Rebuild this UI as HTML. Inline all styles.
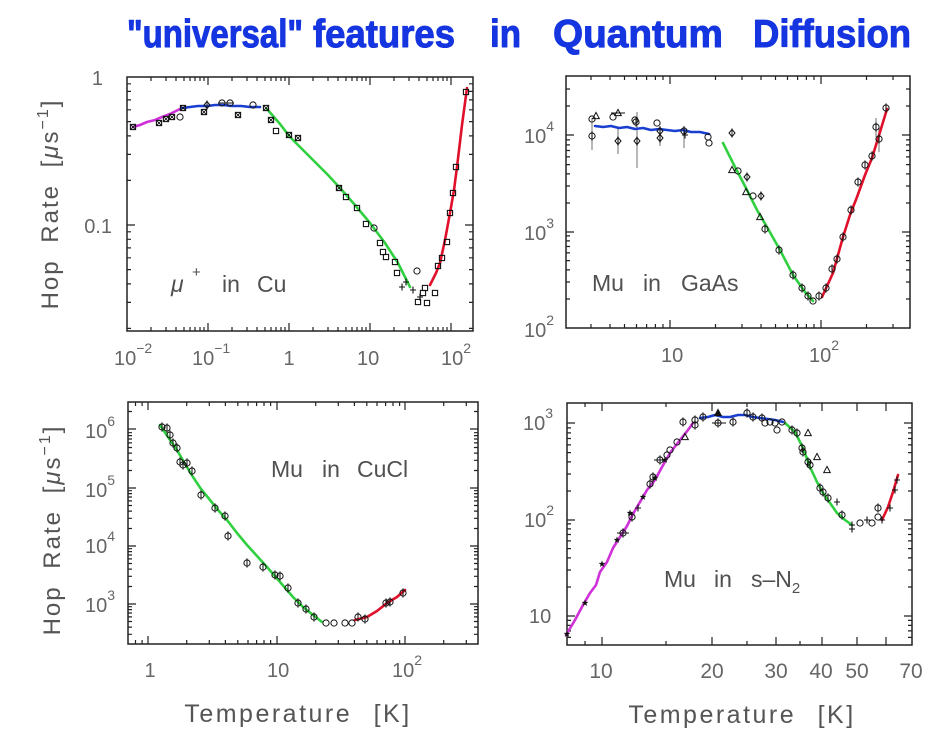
<!DOCTYPE html>
<html>
<head>
<meta charset="utf-8">
<style>
html,body{margin:0;padding:0;background:#fff;}
svg{display:block;}
</style>
</head>
<body>
<svg width="932" height="739" viewBox="0 0 932 739" xmlns="http://www.w3.org/2000/svg" font-family="'Liberation Sans', sans-serif">
<defs>
  <g id="s"><rect x="-2.6" y="-2.6" width="5.2" height="5.2" fill="none" stroke="#111" stroke-width="1.1"/></g>
  <g id="sx"><rect x="-2.6" y="-2.6" width="5.2" height="5.2" fill="none" stroke="#111" stroke-width="1.1"/><path d="M-2.6 -2.6L2.6 2.6M2.6 -2.6L-2.6 2.6" stroke="#111" stroke-width="0.9"/></g>
  <g id="c"><circle r="3.1" fill="none" stroke="#111" stroke-width="1"/></g>
  <g id="cb"><circle r="3.1" fill="none" stroke="#111" stroke-width="1"/><path d="M0 -4.6v9.2" stroke="#111" stroke-width="1"/></g>
  <g id="t"><path d="M0 -3.6L3.3 2.6H-3.3Z" fill="none" stroke="#111" stroke-width="1"/></g>
  <g id="tf"><path d="M0 -3.6L3.3 2.6H-3.3Z" fill="#111" stroke="#111" stroke-width="1"/></g>
  <g id="d"><path d="M0 -3.6L3 0L0 3.6L-3 0Z" fill="none" stroke="#111" stroke-width="1"/><path d="M0 -4.6v9.2" stroke="#111" stroke-width="0.9"/></g>
  <g id="pl"><path d="M-3 0h6M0 -3.5v7" stroke="#111" stroke-width="1.1"/></g>
  <g id="st"><path d="M0 -3.6L0.85 -1.15L3.4 -1.1L1.35 0.45L2.1 2.9L0 1.45L-2.1 2.9L-1.35 0.45L-3.4 -1.1L-0.85 -1.15Z" fill="#111"/></g>

  <!-- Panel 1 ticks -->
  <path id="p1bx" d="M208 331v-8M289 331v-8M370 331v-8M451 331v-8M151 331v-4M166 331v-4M176 331v-4M184 331v-4M190 331v-4M195 331v-4M200 331v-4M204 331v-4M232 331v-4M247 331v-4M257 331v-4M265 331v-4M271 331v-4M276 331v-4M281 331v-4M285 331v-4M313 331v-4M328 331v-4M338 331v-4M346 331v-4M352 331v-4M357 331v-4M362 331v-4M366 331v-4M394 331v-4M409 331v-4M419 331v-4M427 331v-4M433 331v-4M438 331v-4M443 331v-4M447 331v-4" stroke="#222" stroke-width="1.2" fill="none"/>
  <path id="p1ly" d="M127 225h8M127 83.8h4M127 91.4h4M127 99.9h4M127 109.8h4M127 121.6h4M127 135.9h4M127 154.4h4M127 180.4h4M127 231.8h4M127 239.3h4M127 247.9h4M127 257.8h4M127 269.6h4M127 283.9h4M127 302.4h4M127 328.4h4" stroke="#222" stroke-width="1.2" fill="none"/>

  <!-- Panel 2 ticks -->
  <path id="p2bx" d="M670 328v-8M821 328v-8M591 328v-4M610 328v-4M624.5 328v-4M636.5 328v-4M646.6 328v-4M655.4 328v-4M663 328v-4M715.5 328v-4M742 328v-4M761 328v-4M775.5 328v-4M787.5 328v-4M797.6 328v-4M806.4 328v-4M814 328v-4M866.5 328v-4M893 328v-4" stroke="#222" stroke-width="1.2" fill="none"/>
  <path id="p2ly" d="M566 135h8M566 232h8M566 299h4M566 282h4M566 269.9h4M566 260.6h4M566 252.9h4M566 246.5h4M566 240.9h4M566 235.9h4M566 203h4M566 186h4M566 173.9h4M566 164.6h4M566 156.9h4M566 150.5h4M566 144.9h4M566 139.9h4M566 106h4M566 89h4" stroke="#222" stroke-width="1.2" fill="none"/>

  <!-- Panel 3 ticks -->
  <path id="p3bx" d="M148 644v-8M277 644v-8M405 644v-8M135.5 644v-4M142.1 644v-4M186.7 644v-4M209.3 644v-4M225.4 644v-4M237.8 644v-4M248 644v-4M256.6 644v-4M264 644v-4M270.6 644v-4M315.7 644v-4M338.3 644v-4M354.4 644v-4M366.8 644v-4M377 644v-4M385.6 644v-4M393 644v-4M399.6 644v-4M443.7 644v-4M466.3 644v-4" stroke="#222" stroke-width="1.2" fill="none"/>
  <path id="p3ly" d="M128 429h8M128 488h8M128 546h8M128 604h8M128 634.3h4M128 627.1h4M128 621.5h4M128 616.9h4M128 613h4M128 609.6h4M128 606.7h4M128 586.5h4M128 576.3h4M128 569.1h4M128 563.5h4M128 558.9h4M128 555h4M128 551.6h4M128 548.7h4M128 528.5h4M128 518.3h4M128 511.1h4M128 505.5h4M128 500.9h4M128 497h4M128 493.6h4M128 490.7h4M128 470.5h4M128 460.3h4M128 453.1h4M128 447.5h4M128 442.9h4M128 439h4M128 435.6h4M128 432.7h4M128 411.5h4" stroke="#222" stroke-width="1.2" fill="none"/>

  <!-- Panel 4 ticks -->
  <path id="p4bx" d="M602 645v-8M712 645v-8M776 645v-8M822 645v-8M857 645v-8M886 645v-8M585 645v-4M666 645v-4M747 645v-4M800 645v-4" stroke="#222" stroke-width="1.2" fill="none"/>
  <path id="p4ly" d="M567 423h8M567 520h8M567 616h8M567 625.4h4M567 620.4h4M567 630.9h4M567 637.4h4M567 587h4M567 570h4M567 557.9h4M567 548.6h4M567 540.9h4M567 534.5h4M567 528.9h4M567 523.9h4M567 491h4M567 474h4M567 461.9h4M567 452.6h4M567 444.9h4M567 438.5h4M567 432.9h4M567 427.9h4" stroke="#222" stroke-width="1.2" fill="none"/>
</defs>

<rect width="932" height="739" fill="#fff"/>

<!-- Title -->
<g font-family="'Liberation Sans', sans-serif" font-weight="bold" font-size="39" fill="#1535e0" stroke="#1535e0" stroke-width="1" stroke-linejoin="round">
  <text x="127" y="47" textLength="176" lengthAdjust="spacingAndGlyphs">"universal"</text>
  <text x="313" y="47" textLength="142" lengthAdjust="spacingAndGlyphs">features</text>
  <text x="490" y="47" textLength="31" lengthAdjust="spacingAndGlyphs">in</text>
  <text x="553" y="47" textLength="170" lengthAdjust="spacingAndGlyphs">Quantum</text>
  <text x="753" y="47" textLength="158" lengthAdjust="spacingAndGlyphs">Diffusion</text>
</g>

<!-- Axis titles -->
<g fill="#555" font-size="24" letter-spacing="2" word-spacing="8">
  <text transform="translate(58,204) rotate(-90)" text-anchor="middle">Hop Rate [<tspan font-style="italic">μ</tspan>s<tspan dy="-10" font-size="16">−1</tspan><tspan dy="10">]</tspan></text>
  <text transform="translate(60,530) rotate(-90)" text-anchor="middle">Hop Rate [<tspan font-style="italic">μ</tspan>s<tspan dy="-10" font-size="16">−1</tspan><tspan dy="10">]</tspan></text>
</g>
<g fill="#555" font-size="25" letter-spacing="2.5" word-spacing="12">
  <text x="298" y="722" text-anchor="middle">Temperature [K]</text>
  <text x="742" y="723" text-anchor="middle">Temperature [K]</text>
</g>

<!-- ================= Panel 1 ================= -->
<rect x="127" y="77" width="346" height="254" fill="none" stroke="#222" stroke-width="1.5"/>
<use href="#p1bx"/>
<use href="#p1bx" transform="translate(0,408) scale(1,-1)"/>
<use href="#p1ly"/>
<use href="#p1ly" transform="translate(600,0) scale(-1,1)"/>
<g fill="#666" font-size="20">
  <text x="103" y="85" text-anchor="end">1</text>
  <text x="112" y="233" text-anchor="end">0.1</text>
  <text x="114" y="365">10<tspan dy="-12" font-size="14">−2</tspan></text>
  <text x="192" y="365">10<tspan dy="-12" font-size="14">−1</tspan></text>
  <text x="289" y="365" text-anchor="middle">1</text>
  <text x="357" y="365">10</text>
  <text x="441" y="365">10<tspan dy="-12" font-size="14">2</tspan></text>
</g>
<g fill="#505050" font-size="23">
  <text x="171" y="292" font-style="italic">μ</text>
  <text x="192" y="277" font-size="15">+</text>
  <text x="222" y="292">in</text>
  <text x="257" y="292">Cu</text>
</g>
<g fill="none" stroke-width="2.6" stroke-linecap="round" stroke-linejoin="round">
  <path d="M133 127L140 125L147 122L155 120L162 117L170 114L176 111L182 108" stroke="#d030d8"/>
  <path d="M182 108L190 107L198 106L207 106L215 105L223 105L232 106L241 106L250 107L260 107" stroke="#1a3fd0"/>
  <path d="M267 109L280 124L290 137L303 150L316 163L328 175L340 188L355 205L370 223L385 243L398 263L410 287" stroke="#30d040"/>
  <path d="M430 285L436 273L440 263L445 240L450 213L454 190L457 167L462 125L467 88" stroke="#e0102a"/>
</g>
<g>
  <use href="#sx" x="133" y="127"/><use href="#sx" x="159" y="123"/><use href="#sx" x="166" y="119"/><use href="#sx" x="172" y="117"/>
  <use href="#c" x="180" y="117"/><use href="#sx" x="183" y="108"/><use href="#sx" x="204" y="112"/><use href="#d" x="207" y="105"/>
  <use href="#c" x="222" y="103"/><use href="#c" x="230" y="103"/><path d="M218 103h16" stroke="#111" stroke-width="1"/>
  <use href="#sx" x="238" y="115"/><use href="#c" x="253" y="105"/><use href="#sx" x="266" y="108"/><use href="#sx" x="271" y="120"/>
  <use href="#s" x="276" y="131"/><use href="#sx" x="289" y="135"/><use href="#sx" x="298" y="138"/>
  <use href="#sx" x="339" y="188"/><use href="#s" x="346" y="197"/><use href="#s" x="357" y="208"/><use href="#s" x="366" y="224"/>
  <use href="#c" x="374" y="228"/><use href="#s" x="380" y="243"/><use href="#s" x="383" y="252"/><use href="#s" x="386" y="257"/>
  <use href="#s" x="395" y="262"/><use href="#s" x="397" y="273"/><use href="#pl" x="402" y="287"/><use href="#pl" x="406" y="282"/>
  <use href="#c" x="417" y="271"/><use href="#pl" x="413" y="290"/><use href="#pl" x="420" y="297"/>
  <use href="#s" x="418" y="302"/><use href="#s" x="423" y="293"/><use href="#s" x="425" y="288"/><use href="#s" x="427" y="303"/>
  <use href="#s" x="435" y="293"/><use href="#s" x="438" y="266"/><use href="#s" x="442" y="258"/><use href="#s" x="447" y="242"/>
  <use href="#s" x="450" y="213"/><use href="#s" x="453" y="193"/><use href="#s" x="456" y="167"/><use href="#s" x="466" y="92"/>
</g>

<!-- ================= Panel 2 ================= -->
<rect x="566" y="76" width="344" height="252" fill="none" stroke="#222" stroke-width="1.5"/>
<use href="#p2bx"/>
<use href="#p2bx" transform="translate(0,404) scale(1,-1)"/>
<use href="#p2ly"/>
<use href="#p2ly" transform="translate(1476,0) scale(-1,1)"/>
<g fill="#666" font-size="20">
  <text x="524" y="143">10<tspan dy="-12" font-size="14">4</tspan></text>
  <text x="524" y="240">10<tspan dy="-12" font-size="14">3</tspan></text>
  <text x="524" y="337">10<tspan dy="-12" font-size="14">2</tspan></text>
  <text x="661" y="362">10</text>
  <text x="809" y="362">10<tspan dy="-12" font-size="14">2</tspan></text>
</g>
<g fill="#505050" font-size="23">
  <text x="592" y="291">Mu</text>
  <text x="643" y="291">in</text>
  <text x="681" y="291">GaAs</text>
</g>
<g stroke="#888" stroke-width="1.2">
  <path d="M592 118V150M618 128V154M637 112V168M684 126V148M876 118V137M879 128V152M660 126V146"/>
</g>
<g fill="none" stroke-width="2.6" stroke-linecap="round" stroke-linejoin="round">
  <path d="M595 126L603 127L611 126L619 128L627 127L635 129L643 128L651 130L659 129L667 130L675 131L683 130L691 132L700 132L709 134" stroke="#1a3fd0"/>
  <path d="M723 143L735 167L747 190L757 210L767 227L780 250L793 275L805 292L813 301" stroke="#30d040"/>
  <path d="M822 297L833 273L843 237L850 215L857 197L865 175L872 158L880 132L887 109" stroke="#e0102a"/>
</g>
<g>
  <use href="#c" x="592" y="119"/><use href="#t" x="596" y="116"/><use href="#c" x="613" y="117"/><use href="#t" x="618" y="113"/>
  <path d="M611 113h14" stroke="#111"/>
  <use href="#c" x="635" y="120"/><use href="#cb" x="636" y="122"/><use href="#c" x="657" y="123"/><use href="#d" x="660" y="131"/>
  <use href="#cb" x="684" y="131"/><use href="#pl" x="685" y="135"/><use href="#c" x="708" y="137"/><use href="#c" x="709" y="143"/>
  <use href="#cb" x="592" y="136"/><use href="#d" x="618" y="141"/><use href="#d" x="637" y="141"/><use href="#d" x="660" y="138"/>
  <use href="#d" x="732" y="133"/><use href="#t" x="732" y="170"/><use href="#c" x="738" y="171"/><use href="#d" x="747" y="177"/>
  <use href="#t" x="746" y="192"/><use href="#c" x="753" y="196"/><use href="#d" x="761" y="196"/><use href="#t" x="760" y="217"/>
  <use href="#cb" x="765" y="229"/><use href="#cb" x="779" y="250"/><use href="#cb" x="793" y="275"/><use href="#cb" x="802" y="288"/>
  <use href="#cb" x="808" y="296"/><use href="#c" x="813" y="301"/><use href="#cb" x="819" y="296"/><use href="#cb" x="826" y="288"/>
  <use href="#cb" x="832" y="269"/><use href="#cb" x="837" y="259"/><use href="#cb" x="843" y="237"/><use href="#cb" x="851" y="210"/>
  <use href="#cb" x="858" y="182"/><use href="#cb" x="865" y="165"/><use href="#cb" x="872" y="156"/><use href="#cb" x="876" y="127"/>
  <use href="#cb" x="879" y="139"/><use href="#cb" x="886" y="108"/>
</g>

<!-- ================= Panel 3 ================= -->
<rect x="128" y="402" width="350" height="242" fill="none" stroke="#222" stroke-width="1.5"/>
<use href="#p3bx"/>
<use href="#p3bx" transform="translate(0,1046) scale(1,-1)"/>
<use href="#p3ly"/>
<use href="#p3ly" transform="translate(606,0) scale(-1,1)"/>
<g fill="#666" font-size="20">
  <text x="85" y="438">10<tspan dy="-12" font-size="14">6</tspan></text>
  <text x="85" y="497">10<tspan dy="-12" font-size="14">5</tspan></text>
  <text x="85" y="553">10<tspan dy="-12" font-size="14">4</tspan></text>
  <text x="85" y="612">10<tspan dy="-12" font-size="14">3</tspan></text>
  <text x="150" y="677" text-anchor="middle">1</text>
  <text x="267" y="677">10</text>
  <text x="392" y="677">10<tspan dy="-12" font-size="14">2</tspan></text>
</g>
<g fill="#505050" font-size="23">
  <text x="271" y="477">Mu</text>
  <text x="322" y="477">in</text>
  <text x="357" y="477">CuCl</text>
</g>
<g fill="none" stroke-width="2.6" stroke-linecap="round" stroke-linejoin="round">
  <path d="M160 425L168 437L177 450L185 464L193 477L201 489L210 500L218 510L227 520L237 533L247 545L257 556L267 567L280 582L293 597L303 607L313 615L322 622" stroke="#30d040"/>
  <path d="M355 620L367 617L377 611L387 603L397 597L405 590" stroke="#e0102a"/>
</g>
<g>
  <use href="#cb" x="162" y="427"/><use href="#cb" x="167" y="428"/><use href="#cb" x="170" y="435"/><use href="#cb" x="173" y="443"/>
  <use href="#cb" x="177" y="448"/><use href="#cb" x="180" y="462"/><use href="#cb" x="183" y="465"/><use href="#cb" x="187" y="463"/>
  <use href="#cb" x="192" y="471"/><use href="#cb" x="201" y="495"/><use href="#cb" x="215" y="508"/><use href="#cb" x="225" y="516"/>
  <use href="#cb" x="228" y="536"/><use href="#cb" x="247" y="563"/><use href="#cb" x="263" y="567"/><use href="#cb" x="275" y="575"/>
  <use href="#cb" x="280" y="576"/><use href="#cb" x="288" y="588"/><use href="#cb" x="298" y="603"/><use href="#cb" x="306" y="609"/>
  <use href="#cb" x="314" y="617"/><use href="#c" x="326" y="623"/><use href="#c" x="334" y="623"/><use href="#c" x="345" y="623"/>
  <use href="#c" x="352" y="623"/><use href="#cb" x="358" y="617"/><use href="#cb" x="365" y="619"/><use href="#cb" x="386" y="603"/>
  <use href="#cb" x="390" y="602"/><use href="#cb" x="403" y="593"/>
</g>

<!-- ================= Panel 4 ================= -->
<rect x="567" y="403" width="345" height="242" fill="none" stroke="#222" stroke-width="1.5"/>
<use href="#p4bx"/>
<use href="#p4bx" transform="translate(0,1048) scale(1,-1)"/>
<use href="#p4ly"/>
<use href="#p4ly" transform="translate(1479,0) scale(-1,1)"/>
<g fill="#666" font-size="20">
  <text x="523" y="430">10<tspan dy="-12" font-size="14">3</tspan></text>
  <text x="524" y="527">10<tspan dy="-12" font-size="14">2</tspan></text>
  <text x="529" y="623">10</text>
</g>
<g fill="#666" font-size="21" text-anchor="middle">
  <text x="601" y="678">10</text>
  <text x="712" y="678">20</text>
  <text x="776" y="678">30</text>
  <text x="821" y="678">40</text>
  <text x="857" y="678">50</text>
  <text x="911" y="678">70</text>
</g>
<g fill="#505050" font-size="23">
  <text x="664" y="587">Mu</text>
  <text x="714" y="587">in</text>
  <text x="751" y="587">s–N<tspan dy="6" font-size="15">2</tspan></text>
</g>
<g fill="none" stroke-width="2.6" stroke-linecap="round" stroke-linejoin="round">
  <path d="M566 635L575 620L583 605L590 593L596 585L600 572L607 562L613 548L620 537L627 526L633 514L640 502L647 490L655 480L662 467L670 453L680 440L688 430L693 423" stroke="#d030d8"/>
  <path d="M700 418L708 417L715 415L723 417L730 417L738 415L745 415L753 417L760 418L768 419L775 420L783 422" stroke="#1a3fd0"/>
  <path d="M785 423L795 432L803 448L810 467L817 482L823 493L830 503L837 513L845 520L852 525" stroke="#30d040"/>
  <path d="M882 520L888 507L893 492L898 475" stroke="#e0102a"/>
</g>
<g>
  <use href="#st" x="567" y="634"/><use href="#st" x="585" y="603"/><use href="#st" x="602" y="564"/><use href="#st" x="617" y="540"/>
  <use href="#st" x="630" y="513"/><use href="#st" x="643" y="497"/><use href="#st" x="655" y="478"/><use href="#st" x="665" y="460"/>
  <use href="#cb" x="623" y="533"/><path d="M617 533h12" stroke="#111"/><use href="#cb" x="632" y="517"/><use href="#pl" x="638" y="508"/>
  <use href="#cb" x="650" y="484"/><use href="#cb" x="653" y="477"/><use href="#cb" x="660" y="460"/><path d="M654 460h12" stroke="#111"/>
  <use href="#c" x="667" y="455"/><use href="#c" x="670" y="450"/><use href="#c" x="677" y="442"/><use href="#t" x="685" y="437"/>
  <use href="#cb" x="683" y="422"/><use href="#cb" x="695" y="425"/><use href="#cb" x="695" y="420"/>
  <use href="#cb" x="703" y="417"/><use href="#tf" x="718" y="413"/><use href="#cb" x="718" y="423"/><path d="M712 423h14" stroke="#111"/>
  <use href="#cb" x="733" y="422"/><use href="#cb" x="747" y="413"/><use href="#cb" x="753" y="417"/><use href="#cb" x="762" y="418"/>
  <use href="#c" x="765" y="423"/><use href="#c" x="770" y="422"/><use href="#c" x="775" y="423"/><use href="#c" x="777" y="430"/><use href="#c" x="782" y="422"/>
  <use href="#cb" x="792" y="430"/><use href="#cb" x="797" y="433"/><use href="#cb" x="802" y="448"/><use href="#cb" x="803" y="452"/>
  <use href="#cb" x="808" y="462"/><use href="#cb" x="810" y="465"/><use href="#t" x="808" y="433"/><use href="#t" x="817" y="457"/>
  <use href="#t" x="827" y="470"/><use href="#cb" x="820" y="488"/><use href="#cb" x="823" y="492"/><use href="#cb" x="828" y="498"/>
  <use href="#pl" x="837" y="502"/><use href="#cb" x="842" y="515"/><use href="#pl" x="852" y="525"/><use href="#pl" x="852" y="529"/>
  <use href="#c" x="860" y="523"/><use href="#pl" x="867" y="520"/><use href="#c" x="872" y="523"/><use href="#cb" x="878" y="508"/>
  <use href="#c" x="878" y="517"/><use href="#pl" x="882" y="520"/><use href="#pl" x="890" y="508"/><use href="#pl" x="895" y="490"/>
  <use href="#pl" x="897" y="480"/>
</g>
</svg>
</body>
</html>
